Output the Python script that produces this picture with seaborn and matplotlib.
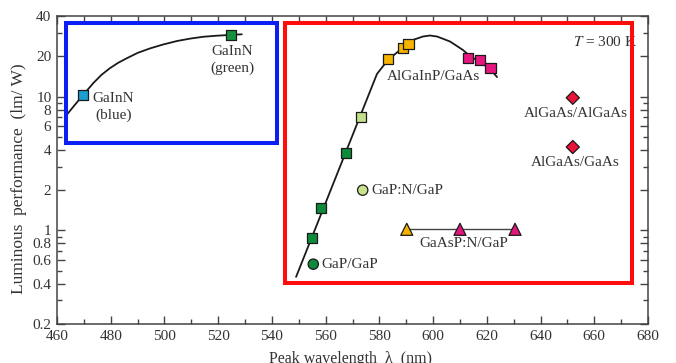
import matplotlib
matplotlib.use("Agg")
import matplotlib.pyplot as plt
import seaborn as sns
import pandas as pd
from matplotlib.patches import Rectangle
from matplotlib.ticker import NullFormatter

# fitted curves (nm, lm/W)
blue_curve_x = [463.6, 466.7, 469.6, 473.5, 476.5, 479.7, 482.8, 485.9, 490.0,
                494.6, 499.5, 504.6, 509.5, 514.5, 519.5, 524.7, 528.8]
blue_curve_y = [7.3, 8.7, 10.2, 12.6, 14.5, 16.3, 17.9, 19.3, 21.2,
                22.9, 24.5, 26.0, 27.1, 28.0, 28.5, 28.9, 29.2]
red_curve_x = [549.0, 579.1, 581.4, 583.2, 587.7, 592.5, 596.2, 598.8, 601.5,
               606.3, 611.1, 613.7, 617.5, 621.2, 623.8]
red_curve_y = [0.45, 14.75, 16.9, 18.8, 22.3, 26.5, 28.1, 28.6, 28.1,
               25.8, 22.3, 20.1, 18.1, 16.1, 14.0]

# measured devices
gainn_x = [469.6, 524.7]
gainn_y = [10.3, 28.9]
gainn_colors = ["#1b9fd0", "#15913e"]

square_x = [555.0, 558.2, 567.5, 573.2, 583.3, 588.9, 590.8, 613.1, 617.5, 621.4]
square_y = [0.875, 1.465, 3.81, 7.08, 19.0, 23.2, 24.6, 19.5, 18.7, 16.4]
square_colors = ["#0d8a3a", "#0d8a3a", "#0d8a3a", "#c3e08a", "#f6b400", "#f6b400",
                 "#f6b400", "#e8177f", "#e8177f", "#e8177f"]

circle_x = [573.8, 555.4]
circle_y = [2.0, 0.56]
circle_colors = ["#c8e38c", "#0d8a3a"]

triangle_x = [590.2, 610.0, 630.5]
triangle_y = [1.02, 1.02, 1.02]
triangle_colors = ["#f4b300", "#e2157b", "#e2157b"]

diamond_x = [652.0, 652.0]
diamond_y = [9.8, 4.2]
diamond_colors = ["#e8123a", "#e8123a"]

labels = ["GaInN\n(blue)", "GaInN\n(green)", "AlGaInP/GaAs", "AlGaAs/AlGaAs",
          "AlGaAs/GaAs", "GaP:N/GaP", "GaAsP:N/GaP", "GaP/GaP"]
label_x = [481.0, 525.2, 600.2, 653.0, 652.9, 577.0, 611.3, 558.3]
label_y = [8.4, 18.8, 14.2, 7.5, 3.23, 2.0, 0.80, 0.56]
label_ha = ["center", "center", "center", "center", "center", "left", "center", "left"]

y_major = [0.2, 0.4, 0.6, 0.8, 1, 2, 4, 6, 8, 10, 20, 40]
y_major_labels = ["0.2", "0.4", "0.6", "0.8", "1", "2", "4", "6", "8", "10", "20", "40"]
y_minor = [0.3, 0.5, 0.7, 0.9, 3, 5, 7, 9, 30]
x_major = list(range(460, 681, 20))
x_minor = list(range(470, 680, 20))

# highlight boxes (x0, x1, y0, y1)
blue_box = [463.2, 541.8, 4.48, 35.6]
red_box = [544.9, 674.0, 0.404, 35.6]

sns.set_style("ticks")
plt.rcParams["font.family"] = ["Liberation Serif", "DejaVu Serif"]
plt.rcParams["mathtext.fontset"] = "stix"

fig = plt.figure(figsize=(6.76, 3.63), dpi=100)
ax = fig.add_axes([0.0843, 0.1074, 0.8743, 0.8485])
ax.set_yscale("log")

line_kw = dict(color="#1a1a1a", lw=1.3, sort=False, estimator=None, legend=False)
sns.lineplot(x=blue_curve_x, y=blue_curve_y, ax=ax, **line_kw)
sns.lineplot(x=red_curve_x, y=red_curve_y, ax=ax, **line_kw)
sns.lineplot(x=triangle_x, y=triangle_y, ax=ax, color="#444444", lw=1.0,
             sort=False, estimator=None, legend=False)

def draw_points(xs, ys, cols, marker, size):
    df = pd.DataFrame({"x": xs, "y": ys, "c": cols})
    sns.scatterplot(data=df, x="x", y="y", hue="c", palette={c: c for c in set(cols)},
                    marker=marker, s=size, edgecolor="#1a1a1a", linewidth=0.9,
                    legend=False, ax=ax, zorder=4)

draw_points(gainn_x, gainn_y, gainn_colors, "s", 55)
draw_points(square_x, square_y, square_colors, "s", 55)
draw_points(circle_x, circle_y, circle_colors, "o", 55)
draw_points(triangle_x, triangle_y, triangle_colors, "^", 75)
draw_points(diamond_x, diamond_y, diamond_colors, "D", 45)

for t, x, y, ha in zip(labels, label_x, label_y, label_ha):
    ax.text(x, y, t, ha=ha, va="center", fontsize=11, color="#333333",
            linespacing=1.35, zorder=5)
ax.text(652.2, 25.7, "$T$ = 300 K", ha="left", va="center", fontsize=11,
        color="#333333", zorder=3)

for box, col in [(blue_box, "#0b1ff5"), (red_box, "#ff0d0d")]:
    ax.add_patch(Rectangle((box[0], box[2]), box[1] - box[0], box[3] - box[2],
                           fill=False, edgecolor=col, lw=2.9, zorder=6))

ax.set_xlim(460, 680)
ax.set_ylim(0.2, 40)
ax.set_xticks(x_major)
ax.set_xticks(x_minor, minor=True)
ax.set_yticks(y_major, labels=y_major_labels)
ax.set_yticks(y_minor, minor=True)
ax.yaxis.set_minor_formatter(NullFormatter())
ax.tick_params(which="both", direction="in", top=True, right=True,
               color="#444444", width=1.0, labelsize=11, labelcolor="#333333")
ax.tick_params(which="major", length=6, pad=4)
ax.tick_params(which="minor", length=3.5)
for s in ax.spines.values():
    s.set_color("#444444")
    s.set_linewidth(1.1)

ax.set_xlabel("Peak wavelength  λ  (nm)", fontsize=11.5, color="#333333")
ax.set_ylabel("Luminous  performance  (lm/ W)", fontsize=12.5, color="#333333")
ax.xaxis.set_label_coords(0.4966, -0.086)
ax.yaxis.set_label_coords(-0.05, 0.472)

fig.savefig("out.png", dpi=100)
